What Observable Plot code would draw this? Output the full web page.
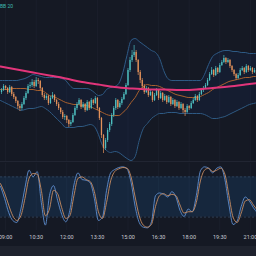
<!DOCTYPE html>
<html><head><meta charset="utf-8">
<script src="https://cdn.jsdelivr.net/npm/d3@7"></script>
<script src="https://cdn.jsdelivr.net/npm/@observablehq/plot@0.6"></script>
<style>
html,body{margin:0;padding:0;background:#151924;width:256px;height:256px;overflow:hidden}
#wrap{position:relative;width:256px;height:256px;}
#main{position:absolute;left:0;top:0}
#sep{position:absolute;left:0;top:161px;width:256px;height:1px;background:#212532}
#stoch{position:absolute;left:0;top:163px}
#bar{position:absolute;left:0;top:246px;width:256px;height:10px;background:#1e222d}
#legend{position:absolute;left:0;top:3px;font:5px Roboto,sans-serif;color:#3fb8af}
svg{overflow:visible}
</style></head><body>
<div id="wrap"><div id="main"></div><div id="sep"></div><div id="stoch"></div><div id="bar"></div><div id="legend">BB 20</div></div>
<script>
// ---- data (minutes of day for time) ----
const startMin = 525;   // 08:45 left edge
const endMin = 1278;    // right edge
const candleStep = 6;   // minutes per candle
const firstOpen = 108;
const closes = [110,114,112,108,113,106,103,99,94,92,
 96,102,107,114,115,118,114,120,119,112,
 105,102,104,97,102,105,100,96,92,88,
 83,84,80,76,78,85,92,96,100,93,
 96,90,98,92,100,97,102,92,82,65,
 52,60,70,76,85,92,100,93,97,101,
 106,115,130,140,145,148,140,128,120,114,
 108,112,105,108,100,105,110,102,107,100,
 104,98,103,96,100,94,98,92,96,90,
 88,94,92,97,100,104,100,106,110,112,
 115,120,126,130,125,132,128,135,138,142,
 138,140,134,130,126,122,125,130,132,128,
 134,130,132,128,130,126];
const highs = [112,116,115,113,115,114,108,104,100,96,
 98,104,109,116,118,121,120,123,122,120,
 113,107,106,105,104,108,106,101,98,93,
 90,86,85,81,80,87,94,98,102,101,
 98,97,100,99,102,101,104,103,93,83,
 66,62,72,78,87,94,102,101,99,103,
 108,117,132,143,150,155,150,141,130,122,
 116,114,113,110,109,107,112,111,109,108,
 106,105,105,104,102,101,100,99,98,97,
 92,96,95,99,102,106,105,108,112,114,
 117,122,128,133,131,134,133,137,140,145,
 143,142,141,135,131,127,127,132,134,133,
 136,135,134,133,132,131];
const lows = [106,109,110,106,107,104,101,97,91,89,
 90,95,100,106,112,113,112,113,116,110,
 103,100,100,95,96,101,98,94,90,86,
 81,80,77,73,74,77,84,90,95,91,
 92,88,89,90,91,95,96,90,80,62,
 47,50,58,68,74,83,90,91,92,95,
 100,105,114,128,138,143,138,125,117,112,
 106,107,103,104,98,99,104,100,101,98,
 99,96,97,94,95,92,93,90,91,87,
 84,87,90,91,96,99,98,99,105,108,
 111,114,119,125,123,124,126,127,134,137,
 136,137,132,128,124,120,121,124,129,126,
 127,128,129,126,127,124];

// indicator samples every 12 minutes from 08:45
const indStep = 12;
const bbUpper = [120,120,120,120,120,121,122,124,126,125,
 124,123,123,123,123,122,120,115,112,112,
 112,112,111,108,105,106,111,113,114,117,
 128,145,160,162,159,156,153,150,148,142,
 130,122,120,120,120,120,120,120,120,120,
 126,136,144,147,149,150,150,149,149,148,
 148,147,147,147];
const bbBasis = [111,111,111,112,112,112,112,111,111,110,
 110,108,105,104,102,100,98,97,96,96,
 95,95,94,92,90,88,86,85,85,85,
 88,92,98,103,110,114,116,115,115,114,
 112,110,108,106,105,104,103,103,103,104,
 106,108,111,113,115,117,119,120,121,122,
 123,123,124,124];
const bbLower = [100,98,96,94,92,90,91,92,92,93,
 94,92,89,85,81,77,73,73,73,74,
 74,75,76,74,66,55,50,48,49,48,
 45,42,40,44,60,72,77,82,85,87,
 87,88,88,88,87,87,87,87,87,87,
 86,84,82,82,83,84,86,88,90,92,
 94,96,97,98];
const stochK = [66,48,27,15,12,32,64,90,80,88,
 42,8,52,67,45,24,13,30,68,86,
 76,75,71,48,15,20,60,86,91,94,
 95,92,72,36,12,5,4,13,52,56,
 54,50,58,50,30,21,32,28,52,89,
 95,93,86,93,95,76,38,9,14,36,
 50,44,34,26];
const stochD = [70,56,38,22,15,22,48,78,85,84,
 60,22,32,60,55,34,18,22,52,78,
 80,76,73,58,28,18,42,74,88,92,
 94,93,80,50,22,8,5,9,36,52,
 55,52,54,52,38,26,28,28,42,74,
 90,93,88,90,93,84,52,20,12,26,
 44,46,38,30];
// long moving average, every 48 minutes
const maStep = 48;
const maValues = [134,131,128,125,122,118.5,116,113.5,112,111,111,110.5,111,112.5,114,116,118];
const stochLevels = [80, 20];
const tickLabels = ["09:00","10:30","12:00","13:30","15:00","16:30","18:00","19:30","21:00"];

// ---- tables ----
const candles = closes.map((c, k) => ({
  t: startMin + candleStep * k + candleStep / 2,
  open: k === 0 ? firstOpen : closes[k - 1],
  close: c, high: highs[k], low: lows[k]
}));
const ind = bbUpper.map((u, j) => ({
  t: startMin + indStep * j, upper: u, basis: bbBasis[j], lower: bbLower[j], k: stochK[j], d: stochD[j]
}));
const ma = maValues.map((v, j) => ({t: startMin + maStep * j, v}));
const toMin = s => { const [h, m] = s.split(":").map(Number); return h * 60 + m; };
const ticks = tickLabels.map(toMin);
const labelOf = new Map(tickLabels.map(s => [toMin(s), s]));

const UP = "#4dbfc0", DOWN = "#e3915a";
const col = d => d.close >= d.open ? UP : DOWN;
const xs = {domain: [startMin, endMin], axis: null};

const main = Plot.plot({
  width: 256, height: 161, margin: 0,
  style: {background: "transparent"},
  x: xs,
  y: {domain: [39, 200], axis: null},
  marks: [
    Plot.ruleX(ticks, {stroke: "#1b1f2c", strokeWidth: 1}),
    Plot.areaY(ind, {x: "t", y1: "lower", y2: "upper", fill: "#2962ff", fillOpacity: 0.06, curve: "monotone-x"}),
    Plot.lineY(ind, {x: "t", y: "upper", stroke: "#2e5a84", strokeWidth: 1, curve: "monotone-x"}),
    Plot.lineY(ind, {x: "t", y: "lower", stroke: "#2e5a84", strokeWidth: 1, curve: "monotone-x"}),
    Plot.lineY(ind, {x: "t", y: "basis", stroke: "#a8602e", strokeWidth: 1, curve: "monotone-x"}),
    Plot.ruleX(candles, {x: "t", y1: "low", y2: "high", stroke: col, strokeWidth: 0.7}),
    Plot.ruleX(candles, {x: "t", y1: "open", y2: "close", stroke: col, strokeWidth: 1.3}),
    Plot.lineY(ma, {x: "t", y: "v", stroke: "#e2357a", strokeWidth: 2, curve: "natural"})
  ]
});
document.getElementById("main").append(main);

const stoch = Plot.plot({
  width: 256, height: 83, marginTop: 0, marginBottom: 16, marginLeft: 0, marginRight: 0,
  style: {background: "transparent", color: "#c8cbd3", fontSize: "5.5px", fontFamily: "Roboto, sans-serif"},
  x: {domain: [startMin, endMin], ticks: ticks, tickFormat: m => labelOf.get(m), tickSize: 0, tickPadding: 5, label: null},
  y: {domain: [0, 100], axis: null},
  marks: [
    Plot.ruleX(ticks, {stroke: "#1b1f2c", strokeWidth: 1}),
    Plot.rect([stochLevels], {x1: startMin, x2: endMin, y1: d => d[1], y2: d => d[0], fill: "#2196f3", fillOpacity: 0.12}),
    Plot.ruleY(stochLevels, {stroke: "#3a4d66", strokeWidth: 0.7, strokeDasharray: "2,2"}),
    Plot.lineY(ind, {x: "t", y: "k", stroke: "#5f8fd0", strokeWidth: 0.9, curve: "monotone-x"}),
    Plot.lineY(ind, {x: "t", y: "d", stroke: "#c98d62", strokeWidth: 0.9, curve: "monotone-x"})
  ]
});
document.getElementById("stoch").append(stoch);
</script>
</body></html>
